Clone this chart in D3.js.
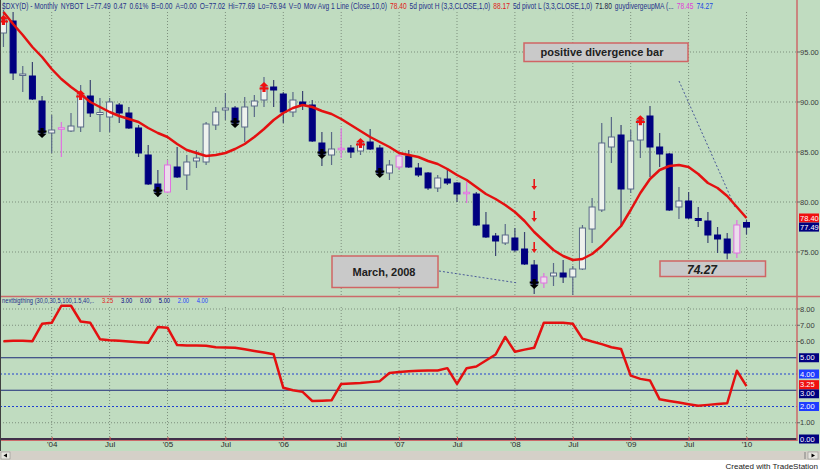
<!DOCTYPE html>
<html><head><meta charset="utf-8">
<script src="https://cdn.jsdelivr.net/npm/d3@7"></script>
<style>body{margin:0;background:#fff;} svg{display:block;font-family:Arial,"Liberation Sans",sans-serif;}</style>
</head><body><svg id="c" width="820" height="471"></svg>
<script>
// month offsets relative to Jan 2004 (Aug 2003 .. Jan 2010)
const monthOffsets = d3.range(-5, 73);
const opens  = [96.9,98.1,92.7,92.6,90.1,86.9,87.3,87.1,87.5,90.6,88.75,88.5,89.7,88.9,87.4,84.7,81.8,81.0,83.5,82.7,84.1,84.0,87.7,89.2,89.4,87.5,89.6,90.2,91.5,90.8,89.0,90.0,89.7,85.9,84.7,85.25,85.4,85.1,86.0,85.4,82.9,83.5,84.6,83.4,82.9,81.4,82.3,81.9,80.85,80.8,77.7,76.6,75.9,76.4,75.3,73.7,71.9,72.6,72.9,72.5,73.3,77.3,79.2,85.5,86.7,81.3,86.2,88.6,85.5,84.8,79.5,80.1,78.35,78.1,76.7,76.3,74.9,77.95];
const highs  = [99.2,99.0,93.6,94.0,90.6,88.7,88.0,88.9,91.7,92.2,90.4,90.4,89.9,89.5,87.7,85.7,83.2,84.2,85.5,84.7,85.2,88.0,89.5,90.9,89.6,90.5,90.7,92.5,92.2,91.0,91.0,91.1,90.2,87.0,87.0,87.4,85.7,86.2,87.3,85.7,84.2,84.9,85.2,83.9,83.0,82.7,83.4,82.0,82.0,81.0,79.0,76.9,77.8,77.4,77.0,74.2,72.9,73.9,74.2,73.6,77.7,80.4,87.9,88.5,87.7,87.2,88.5,89.6,86.9,84.9,81.5,81.0,79.5,79.0,77.5,76.9,78.2,78.2];
const lows   = [95.5,92.2,91.0,90.2,86.5,84.9,84.5,87.0,87.0,88.5,87.0,87.0,87.9,87.3,84.5,81.7,80.5,80.9,82.4,81.2,83.4,83.7,87.2,88.2,87.5,86.0,88.5,89.5,89.5,87.9,88.5,89.2,86.0,83.6,83.7,84.4,84.4,84.7,85.2,82.5,82.2,83.2,83.4,82.5,81.2,81.0,81.7,80.0,79.9,77.6,76.4,74.6,75.7,75.0,73.7,70.8,71.4,71.6,71.9,70.7,73.2,75.9,79.0,83.9,77.5,80.9,84.4,82.5,83.5,79.1,78.3,78.3,77.5,75.9,74.9,74.27,74.4,76.75];
const closes = [98.2,92.9,92.75,90.3,86.9,87.2,87.4,87.6,90.7,88.9,88.95,90.0,88.9,87.4,84.9,81.8,81.0,83.7,82.5,84.0,84.4,87.8,89.0,89.4,87.9,89.5,90.1,91.5,91.2,89.0,90.2,89.7,86.1,84.8,85.3,85.35,85.0,85.9,85.3,82.9,83.7,84.6,83.5,82.7,81.4,82.4,81.9,80.8,80.95,77.7,76.5,76.1,76.7,75.2,73.8,71.8,72.5,72.9,72.5,73.3,77.4,79.5,85.9,86.5,81.3,86.1,88.17,85.5,84.8,79.2,80.1,78.4,78.15,76.7,76.3,74.9,77.7,77.49];
const movAvg10 = [99.0,97.8,96.7,95.5,94.5,93.3,92.3,91.5,90.8,90.0,89.5,89.0,88.6,88.3,88.0,87.4,86.9,86.5,85.8,85.2,84.9,84.6,84.7,84.9,85.3,85.8,86.5,87.3,88.2,88.9,89.4,89.7,89.5,89.1,88.8,88.3,87.7,87.1,86.5,86.0,85.5,84.9,84.7,84.5,84.1,83.8,83.3,82.7,82.2,81.5,80.8,80.3,79.7,79.0,78.1,77.0,76.1,75.2,74.6,74.2,74.3,74.8,75.6,76.6,77.6,79.2,80.9,82.3,83.2,83.6,83.7,83.5,82.8,81.9,81.4,80.6,79.5,78.4];
const nextBigThing = [6.02,6.05,6.05,6.02,7.09,7.15,8.2,8.2,7.23,7.15,6.14,6.08,6.04,6.0,5.96,5.92,6.89,6.85,5.78,5.76,5.75,5.74,5.64,5.63,5.62,5.52,5.42,5.32,5.21,3.15,3.0,2.9,2.34,2.36,2.38,3.39,3.42,3.45,3.5,3.56,4.06,4.12,4.17,4.2,4.22,4.22,4.36,3.39,4.36,4.46,4.83,5.2,6.28,5.37,5.5,5.62,7.15,7.15,7.15,7.09,6.18,6.0,5.84,5.65,5.54,3.9,3.7,3.6,2.44,2.34,2.24,2.14,2.04,2.1,2.15,2.2,4.2,3.25];
const pinkBars = [1,12,30,36,43,51,71];
const pivotHighs = [-5,3,22,32,61];
const pivotLows = [-1,11,19,28,34,50];
const divArrowMonth = 50;
const divArrowValues = [81.7,78.5,75.4];
const xTickLabels = ["'04","Jul","'05","Jul","'06","Jul","'07","Jul","'08","Jul","'09","Jul","'10"];
const priceTicks = [95,90,85,80,75];
const oscTicks = [8,7,6,1];
const oscSolidLevels = [5,3];
const oscDottedLevels = [4,2];
const headerTexts = ["$DXY(D) - Monthly","NYBOT","L=77.49","0.47","0.61%","B=0.00","A=0.00","O=77.02","Hi=77.69","Lo=76.94","V=0","Mov Avg 1 Line (Close,10,0)","78.40","5d pivot H (3,3,CLOSE,1,0)","88.17","5d pivot L (3,3,CLOSE,1,0)","71.80","guydivergeupMA (...","78.45","74.27"];
const lowerHeaderTexts = ["nextbigthing (30,0,30,5,100,1.5,40,..","3.25","3.00","0.00","5.00","2.00","4.00"];

// ---------- styles / layout ----------
const headerC = ["#24308a","#24308a","#24308a","#24308a","#24308a","#24308a","#24308a","#24308a","#24308a","#24308a","#24308a","#24308a","#e01818","#24308a","#e01818","#24308a","#1a1a40","#24308a","#e040d8","#2048e0"];
const lhC = ["#24308a","#e01818","#000080","#000080","#000080","#1f3cff","#1f3cff"];

const svg = d3.select("#c");
const GREEN = "#c0dcc0", BORDER = "#cc6a6a", GRID = "#7d8f7d", NAVY = "#000080";
const axisX = 797;

svg.append("rect").attr("x",0).attr("y",0).attr("width",820).attr("height",451).attr("fill",GREEN);
svg.append("rect").attr("x",0).attr("y",451).attr("width",820).attr("height",9).attr("fill","#d4d0c8");

const x = d3.scaleLinear().domain([0,72]).range([51.7,746.5]);
const yP = d3.scaleLinear().domain([75,95]).range([252,52]);
const yO = d3.scaleLinear().domain([0,8]).range([439,309]);

const defs = svg.append("defs");
defs.append("clipPath").attr("id","cu").append("rect").attr("x",0).attr("y",0).attr("width",axisX).attr("height",296);
defs.append("clipPath").attr("id","cl").append("rect").attr("x",0).attr("y",297).attr("width",axisX).attr("height",143);

const tickOffsets = xTickLabels.map((d,i)=>i*6);

// grids
const gU = svg.append("g");
tickOffsets.forEach(t=>{
  gU.append("line").attr("x1",x(t)).attr("x2",x(t)).attr("y1",12).attr("y2",296).attr("stroke",GRID).attr("stroke-dasharray","1,2");
  gU.append("line").attr("x1",x(t)).attr("x2",x(t)).attr("y1",307).attr("y2",440).attr("stroke",GRID).attr("stroke-dasharray","1,2");
});
priceTicks.forEach(v=>{
  gU.append("line").attr("x1",0).attr("x2",axisX).attr("y1",yP(v)).attr("y2",yP(v)).attr("stroke",GRID).attr("stroke-dasharray","1,2");
});
oscTicks.forEach(v=>{
  gU.append("line").attr("x1",0).attr("x2",axisX).attr("y1",yO(v)).attr("y2",yO(v)).attr("stroke",GRID).attr("stroke-dasharray","1,2");
});
oscSolidLevels.forEach(v=>{
  gU.append("line").attr("x1",0).attr("x2",axisX).attr("y1",yO(v)).attr("y2",yO(v)).attr("stroke","#1c2a78").attr("stroke-width",1);
});
oscDottedLevels.forEach(v=>{
  gU.append("line").attr("x1",0).attr("x2",axisX).attr("y1",yO(v)).attr("y2",yO(v)).attr("stroke","#2040d0").attr("stroke-dasharray","2,2");
});
gU.append("line").attr("x1",0).attr("x2",axisX).attr("y1",yO(0)).attr("y2",yO(0)).attr("stroke","#40304a").attr("stroke-width",2);

// annotations
const ann = svg.append("g");
function box(x0,y0,w,h){ ann.append("rect").attr("x",x0).attr("y",y0).attr("width",w).attr("height",h).attr("fill","#c9c9c9").attr("stroke","#d06464").attr("stroke-width",1.5); }
box(524,43,164,18.5);
box(332,256,106,31.5);
box(660,261,105.5,15.5);
ann.append("text").attr("x",602).attr("y",56).attr("text-anchor","middle").attr("font-size",11).attr("font-weight","bold").attr("fill","#202020").text("positive divergence bar");
ann.append("text").attr("x",384).attr("y",276).attr("text-anchor","middle").attr("font-size",11).attr("font-weight","bold").attr("fill","#202020").text("March, 2008");
ann.append("text").attr("x",702).attr("y",273.5).attr("text-anchor","middle").attr("font-size",12).attr("font-weight","bold").attr("font-style","italic").attr("fill","#202020").text("74.27");
ann.append("line").attr("x1",679).attr("y1",81).attr("x2",735).attr("y2",207).attr("stroke","#4a5a98").attr("stroke-dasharray","2,2");
ann.append("line").attr("x1",439).attr("y1",271).attr("x2",518).attr("y2",283).attr("stroke","#4a5a98").attr("stroke-dasharray","2,2");

// candles
const up = svg.append("g").attr("clip-path","url(#cu)");
monthOffsets.forEach((m,i)=>{
  const o=opens[i], h=highs[i], l=lows[i], c=closes[i];
  const pink = pinkBars.includes(m);
  const rising = c >= o;
  const cx = x(m);
  const wickCol = pink ? "#e070e0" : (rising ? "#5a6a88" : "#3a4470");
  up.append("line").attr("x1",cx).attr("x2",cx).attr("y1",yP(h)).attr("y2",yP(l)).attr("stroke",wickCol).attr("stroke-width",1.2);
  const top = yP(Math.max(o,c)), bot = yP(Math.min(o,c));
  const hh = Math.max(1.5, bot-top);
  up.append("rect").attr("x",cx-3).attr("y",(top+bot)/2 - hh/2).attr("width",6).attr("height",hh)
    .attr("fill", pink ? "#ecdcec" : (rising ? "#eef2ee" : NAVY))
    .attr("stroke", pink ? "#e070e0" : (rising ? "#5a6a88" : NAVY)).attr("stroke-width",1);
});

up.append("path").datum(monthOffsets.map((m,i)=>[m,movAvg10[i]]))
  .attr("d", d3.line().x(d=>x(d[0])).y(d=>yP(d[1])))
  .attr("fill","none").attr("stroke","#e41010").attr("stroke-width",2.5).attr("stroke-linejoin","round");

const arrowUp = "M0,-5 L4.5,-0.8 L1.6,-0.8 L1.6,0.4 L4.5,0.4 L4.5,2.6 L1.6,2.6 L1.6,5 L-1.6,5 L-1.6,2.6 L-4.5,2.6 L-4.5,0.4 L-1.6,0.4 L-1.6,-0.8 L-4.5,-0.8 Z";
pivotHighs.forEach(m=>{
  const i = monthOffsets.indexOf(m);
  up.append("path").attr("d",arrowUp).attr("transform",`translate(${x(m)},${yP(closes[i])})`).attr("fill","#f01010");
});
pivotLows.forEach(m=>{
  const i = monthOffsets.indexOf(m);
  up.append("path").attr("d",arrowUp).attr("transform",`translate(${x(m)},${yP(closes[i])}) scale(1,-1)`).attr("fill","#000");
});
divArrowValues.forEach(v=>{
  up.append("path").attr("d","M-0.8,-6 L0.8,-6 L0.8,1 L2.8,1 L0,5 L-2.8,1 L-0.8,1 Z").attr("transform",`translate(${x(divArrowMonth)},${yP(v)})`).attr("fill","#e81818");
});

svg.append("g").attr("clip-path","url(#cl)").append("path").datum(monthOffsets.map((m,i)=>[m,nextBigThing[i]]))
  .attr("d", d3.line().x(d=>x(d[0])).y(d=>yO(d[1])))
  .attr("fill","none").attr("stroke","#e41010").attr("stroke-width",2.5).attr("stroke-linejoin","round");

// borders
const bd = svg.append("g");
bd.append("line").attr("x1",axisX).attr("x2",axisX).attr("y1",0).attr("y2",441).attr("stroke",BORDER).attr("stroke-width",1.5);
bd.append("line").attr("x1",0).attr("x2",820).attr("y1",296.5).attr("y2",296.5).attr("stroke",BORDER).attr("stroke-width",1.5);
bd.append("line").attr("x1",0).attr("x2",axisX).attr("y1",440.5).attr("y2",440.5).attr("stroke",BORDER).attr("stroke-width",1.2);
bd.append("line").attr("x1",0.5).attr("x2",0.5).attr("y1",0).attr("y2",451).attr("stroke","#404040");

// right axes
const ra = svg.append("g").attr("font-size",7.5).attr("fill","#3a3a3a");
priceTicks.forEach(v=>{
  ra.append("line").attr("x1",axisX).attr("x2",axisX+3).attr("y1",yP(v)).attr("y2",yP(v)).attr("stroke","#666");
  ra.append("text").attr("x",800).attr("y",yP(v)+2.7).text(v.toFixed(2));
});
oscTicks.forEach(v=>{
  ra.append("line").attr("x1",axisX).attr("x2",axisX+3).attr("y1",yO(v)).attr("y2",yO(v)).attr("stroke","#666");
  ra.append("text").attr("x",800).attr("y",yO(v)+2.7).text(v.toFixed(2));
});
function valBox(y, txt, bg){
  ra.append("rect").attr("x",799).attr("y",y-4.5).attr("width",20).attr("height",9).attr("fill",bg);
  ra.append("text").attr("x",800).attr("y",y+2.7).attr("fill","#fff").text(txt);
}
valBox(yP(movAvg10[movAvg10.length-1]), "78.40", "#f01010");
valBox(yP(closes[closes.length-1]), closes[closes.length-1].toFixed(2), NAVY);
valBox(yO(5),"5.00",NAVY);
valBox(yO(4),"4.00","#1f3cff");
valBox(yO(3)+3.5,"3.00",NAVY);
valBox(yO(nextBigThing[nextBigThing.length-1])-1.5,"3.25","#f01010");
valBox(yO(2),"2.00","#1f3cff");
valBox(yO(0),"0.00",NAVY);

// x axis
const xa = svg.append("g").attr("transform","translate(0,440)")
  .call(d3.axisBottom(x).tickValues(tickOffsets).tickFormat((d,i)=>xTickLabels[i]).tickSize(3));
xa.select(".domain").remove();
xa.selectAll(".tick line").attr("stroke","#d05050").attr("y1",-3).attr("y2",1);
xa.selectAll(".tick text").attr("y",5).attr("dy","0.3em").attr("font-size",8).attr("fill","#2a2a2a").attr("font-family","Arial, Liberation Sans, sans-serif");

// headers: condensed text laid out left to right
function headerRow(texts, colors, y, x0, x1, fs, sx){
  const g = svg.append("g").attr("font-size",fs);
  const nodes = texts.map((t,i)=>g.append("text").attr("fill",colors[i]).text(t));
  const widths = nodes.map(n=>n.node().getComputedTextLength()*sx);
  const total = d3.sum(widths);
  const gap = Math.max(2, (x1 - x0 - total)/(texts.length-1));
  let cx = x0;
  nodes.forEach((n,i)=>{
    n.attr("transform",`translate(${cx},${y}) scale(${sx},1)`);
    cx += widths[i] + gap;
  });
}
headerRow(headerTexts, headerC, 9, 2, 713, 8.5, 0.78);
headerRow(lowerHeaderTexts, lhC, 303, 2, 208, 8, 0.72);

// scrollbar + footer
const sb = svg.append("g");
sb.append("rect").attr("x",1).attr("y",452).attr("width",9).attr("height",7).attr("fill","#e8e6e0").attr("stroke","#808080").attr("stroke-width",0.5);
sb.append("path").attr("d","M7,453.5 L3.5,455.5 L7,457.5 Z").attr("fill","#000");
sb.append("rect").attr("x",808).attr("y",452).attr("width",10).attr("height",7).attr("fill","#e8e6e0").attr("stroke","#808080").attr("stroke-width",0.5);
sb.append("path").attr("d","M811.5,453.5 L815,455.5 L811.5,457.5 Z").attr("fill","#000");
sb.append("line").attr("x1",805).attr("x2",805).attr("y1",452).attr("y2",459).attr("stroke","#808080");
svg.append("text").attr("x",818).attr("y",469).attr("text-anchor","end").attr("font-size",8).attr("fill","#202020").text("Created with TradeStation");
</script></body></html>
